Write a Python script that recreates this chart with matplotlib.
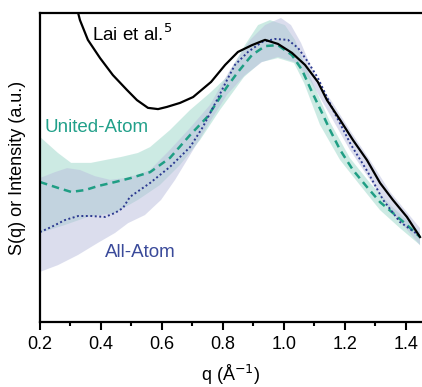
import numpy as np
import matplotlib
matplotlib.use("Agg")
import matplotlib.pyplot as plt

plt.rcParams["font.family"] = ["Liberation Sans", "DejaVu Sans"]

# Lai et al. experimental S(q)
q_exp = [0.315, 0.325, 0.331, 0.357, 0.397, 0.439, 0.485, 0.518, 0.554, 0.587,
         0.616, 0.659, 0.702, 0.761, 0.807, 0.849, 0.895, 0.938, 0.980, 1.026,
         1.069, 1.111, 1.141, 1.184, 1.226, 1.272, 1.315, 1.357, 1.403, 1.446]
s_exp = [1.032, 1.000, 0.977, 0.913, 0.854, 0.799, 0.751, 0.718, 0.693, 0.689,
         0.696, 0.709, 0.728, 0.777, 0.832, 0.874, 0.896, 0.913, 0.900, 0.871,
         0.832, 0.777, 0.718, 0.654, 0.589, 0.524, 0.450, 0.395, 0.340, 0.275]

# United-Atom mean intensity
q_ua = [0.200, 0.259, 0.302, 0.348, 0.390, 0.446, 0.498, 0.561, 0.626, 0.692,
        0.748, 0.813, 0.849, 0.895, 0.938, 0.980, 1.026, 1.059, 1.092, 1.125,
        1.151, 1.184, 1.226, 1.272, 1.315, 1.357, 1.403, 1.446]
i_ua = [0.453, 0.434, 0.421, 0.427, 0.440, 0.453, 0.466, 0.485, 0.531, 0.605,
        0.663, 0.761, 0.809, 0.864, 0.893, 0.896, 0.864, 0.816, 0.744, 0.676,
        0.621, 0.557, 0.492, 0.437, 0.388, 0.353, 0.314, 0.275]

# United-Atom spread (upper / lower edges)
q_ua_hi = [0.200, 0.259, 0.302, 0.367, 0.413, 0.466, 0.521, 0.561, 0.626, 0.692,
           0.757, 0.813, 0.872, 0.915, 0.954, 1.003, 1.036, 1.069, 1.102, 1.151,
           1.216, 1.282, 1.348, 1.446]
i_ua_hi = [0.599, 0.547, 0.515, 0.515, 0.524, 0.534, 0.547, 0.566, 0.621, 0.686,
           0.741, 0.793, 0.896, 0.961, 0.977, 0.961, 0.913, 0.832, 0.757, 0.647,
           0.531, 0.450, 0.379, 0.291]
q_ua_lo = [0.200, 0.282, 0.357, 0.446, 0.521, 0.593, 0.659, 0.725, 0.790, 0.869,
           0.925, 0.980, 1.033, 1.066, 1.118, 1.184, 1.249, 1.315, 1.380, 1.446]
i_ua_lo = [0.288, 0.314, 0.340, 0.353, 0.395, 0.443, 0.508, 0.589, 0.686, 0.793,
           0.841, 0.854, 0.838, 0.773, 0.638, 0.524, 0.443, 0.362, 0.304, 0.249]

# All-Atom mean intensity
q_aa = [0.200, 0.236, 0.282, 0.325, 0.367, 0.413, 0.446, 0.472, 0.495, 0.561,
        0.626, 0.692, 0.734, 0.780, 0.813, 0.839, 0.882, 0.928, 0.970, 1.013,
        1.046, 1.079, 1.111, 1.164, 1.220, 1.275, 1.325, 1.380, 1.446]
i_aa = [0.291, 0.307, 0.330, 0.343, 0.343, 0.340, 0.353, 0.369, 0.405, 0.450,
        0.502, 0.566, 0.631, 0.718, 0.783, 0.832, 0.874, 0.906, 0.916, 0.913,
        0.887, 0.841, 0.790, 0.680, 0.573, 0.485, 0.395, 0.324, 0.278]

# All-Atom spread (upper / lower edges)
q_aa_hi = [0.200, 0.249, 0.289, 0.331, 0.380, 0.430, 0.479, 0.528, 0.561, 0.626,
           0.692, 0.757, 0.823, 0.889, 0.938, 0.990, 1.023, 1.056, 1.089, 1.121,
           1.154, 1.216, 1.282, 1.348, 1.446]
i_aa_hi = [0.466, 0.485, 0.498, 0.492, 0.472, 0.460, 0.466, 0.479, 0.492, 0.557,
           0.628, 0.702, 0.816, 0.913, 0.961, 0.984, 0.961, 0.903, 0.825, 0.761,
           0.718, 0.621, 0.524, 0.421, 0.304]
q_aa_lo = [0.200, 0.259, 0.325, 0.390, 0.446, 0.489, 0.544, 0.597, 0.643, 0.692,
           0.757, 0.813, 0.872, 0.928, 0.980, 1.036, 1.085, 1.151, 1.216, 1.282,
           1.348, 1.446]
i_aa_lo = [0.162, 0.184, 0.217, 0.256, 0.288, 0.320, 0.346, 0.395, 0.460, 0.540,
           0.647, 0.735, 0.799, 0.841, 0.858, 0.841, 0.783, 0.670, 0.557, 0.460,
           0.362, 0.249]

x_ticks = [0.2, 0.4, 0.6, 0.8, 1.0, 1.2, 1.4]

UA_COLOR = "#1f9e84"
AA_COLOR = "#2b3990"


def band(ax, q_hi, v_hi, q_lo, v_lo, color):
    xs = np.concatenate([q_hi, q_lo[::-1]])
    ys = np.concatenate([v_hi, v_lo[::-1]])
    ax.fill(xs, ys, color=color, alpha=0.5, lw=0)


fig = plt.figure(figsize=(4.22, 3.87), dpi=100)
ax = fig.add_axes([40 / 422, 65 / 387, 382 / 422, 309 / 387])

band(ax, q_ua_hi, i_ua_hi, q_ua_lo, i_ua_lo, "#9bd7c9")
band(ax, q_aa_hi, i_aa_hi, q_aa_lo, i_aa_lo, "#b9bddd")

ax.plot(q_ua, i_ua, color=UA_COLOR, lw=1.8, linestyle=(0, (3, 2)))
ax.plot(q_aa, i_aa, color=AA_COLOR, lw=1.4, linestyle=(0, (1, 1.3)))
ax.plot(q_exp, s_exp, color="black", lw=1.6)

ax.text(0.37, 0.93, "Lai et al.$^{5}$", fontsize=13.5, color="black", va="center")
ax.text(0.216, 0.628, "United-Atom", fontsize=13.5, color="#22a08a", va="center")
ax.text(0.414, 0.225, "All-Atom", fontsize=13.5, color="#3a4a9a", va="center")

ax.set_xlim(0.2, 1.4525)
ax.set_ylim(0, 1)
ax.set_xticks(x_ticks)
ax.set_xticks(np.arange(0.3, 1.45, 0.2), minor=True)
ax.set_yticks([])
ax.tick_params(axis="x", which="major", direction="out", length=6, width=1.5,
               labelsize=13, pad=4)
ax.tick_params(axis="x", which="minor", direction="out", length=3, width=1.5)
ax.xaxis.set_major_formatter(matplotlib.ticker.FormatStrFormatter("%.1f"))

for side in ["left", "bottom", "top"]:
    ax.spines[side].set_linewidth(1.6)
ax.spines["right"].set_visible(False)

ax.set_xlabel("q (Å$^{-1}$)", fontsize=13, labelpad=7)
ax.set_ylabel("S(q) or Intensity (a.u.)", fontsize=13, labelpad=10)

fig.savefig("out.png", dpi=100)
